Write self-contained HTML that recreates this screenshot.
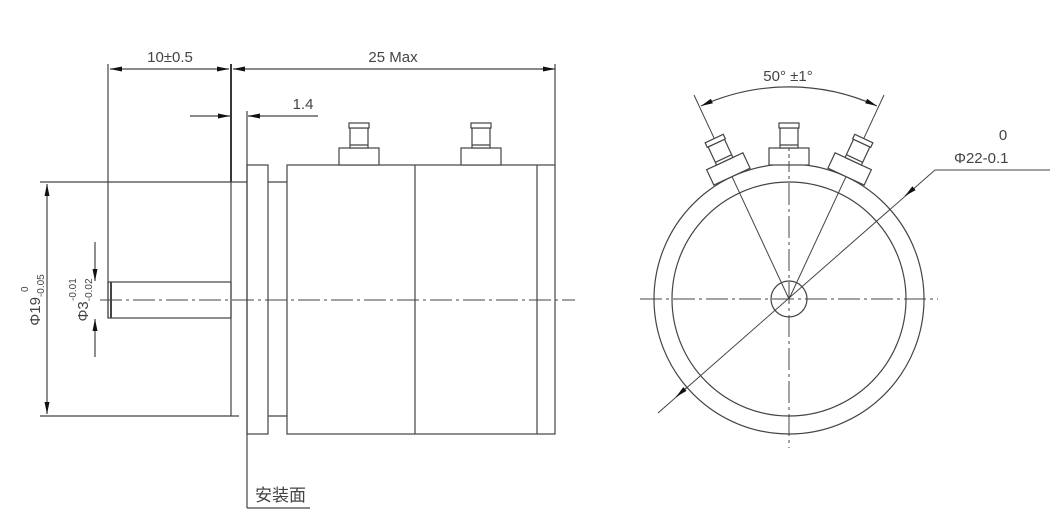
<!DOCTYPE html>
<html><head><style>body{margin:0;background:#fff}svg{display:block}text{font-family:"Liberation Sans","Noto Sans CJK SC",sans-serif;fill:#444}</style></head>
<body>
<svg width="1058" height="532" viewBox="0 0 1058 532" xmlns="http://www.w3.org/2000/svg">
<defs>
<marker id="a" viewBox="0 0 12 5" refX="12" refY="2.5" markerWidth="12" markerHeight="5" orient="auto-start-reverse" markerUnits="userSpaceOnUse"><path d="M0,0L12,2.5L0,5z" fill="#111"/></marker>
<g id="term" fill="#fff" stroke="#444" stroke-width="1.2">
<rect x="-20" y="-152" width="40" height="17"/>
<rect x="-9" y="-172" width="18" height="20"/>
<rect x="-10" y="-177" width="20" height="5"/>
<line x1="-9" y1="-155" x2="9" y2="-155"/>
</g>
</defs>
<g stroke="#444" stroke-width="1.2" fill="none">
<line x1="108" y1="64" x2="108" y2="318"/>
<line x1="231" y1="64" x2="231" y2="182" stroke="#222" stroke-width="1.8"/>
<line x1="231" y1="182" x2="231" y2="416"/>
<line x1="555" y1="64" x2="555" y2="165"/>
<line x1="247" y1="111" x2="247" y2="508"/>
<line x1="247" y1="508" x2="310" y2="508"/>
<rect x="247" y="165" width="21" height="269"/>
<line x1="268" y1="182" x2="287" y2="182"/><line x1="268" y1="416" x2="287" y2="416"/>
<rect x="287" y="165" width="268" height="269"/>
<line x1="415" y1="165" x2="415" y2="434"/>
<line x1="537" y1="165" x2="537" y2="434"/>
<rect x="108" y="282" width="123" height="36"/>
<line x1="111" y1="282" x2="111" y2="318" stroke-width="2"/>
<line x1="40" y1="182" x2="247" y2="182"/>
<line x1="40" y1="416" x2="239" y2="416"/>
<line x1="47" y1="184" x2="47" y2="414" marker-start="url(#a)" marker-end="url(#a)"/>
<line x1="95" y1="242" x2="95" y2="281" marker-end="url(#a)"/>
<line x1="95" y1="357" x2="95" y2="319" marker-end="url(#a)"/>
<line x1="110" y1="69" x2="229" y2="69" marker-start="url(#a)" marker-end="url(#a)"/>
<line x1="233" y1="69" x2="553" y2="69" marker-start="url(#a)"/>
<line x1="541" y1="69" x2="555" y2="69" marker-end="url(#a)"/>
<line x1="190" y1="116" x2="230" y2="116" marker-end="url(#a)"/>
<line x1="318" y1="116" x2="248" y2="116" marker-end="url(#a)"/>
<line x1="100" y1="300" x2="575" y2="300" stroke-dasharray="22,4,3,4" stroke-width="1"/>
<circle cx="789" cy="299" r="135"/>
<circle cx="789" cy="299" r="117"/>
<circle cx="789" cy="299" r="18"/>
<line x1="640" y1="299" x2="938" y2="299" stroke-dasharray="22,4,3,4" stroke-width="1"/>
<line x1="789" y1="150" x2="789" y2="448" stroke-dasharray="22,4,3,4" stroke-width="1"/>
<line x1="789" y1="299" x2="694" y2="95" stroke-width="1"/>
<line x1="789" y1="299" x2="884" y2="95" stroke-width="1"/>
<path d="M701,106 A212,212 0 0 1 877,106" marker-start="url(#a)" marker-end="url(#a)"/>
<line x1="658" y1="413" x2="935" y2="170" stroke-width="1"/>
<line x1="676" y1="397" x2="686" y2="388" marker-start="url(#a)"/>
<line x1="935" y1="170" x2="1050" y2="170" stroke-width="1"/>
<line x1="913" y1="189" x2="905" y2="196" marker-end="url(#a)"/>
</g>
<use href="#term" transform="translate(359,300)"/>
<use href="#term" transform="translate(481,300)"/>
<use href="#term" transform="translate(789,300)"/>
<use href="#term" transform="translate(789,299) rotate(-25)"/>
<use href="#term" transform="translate(789,299) rotate(25)"/>
<g stroke="#444"><line x1="789" y1="165" x2="789" y2="148" stroke-dasharray="4,3"/></g>
<text x="170" y="62" font-size="15" text-anchor="middle">10±0.5</text>
<text x="393" y="62" font-size="15" text-anchor="middle">25 Max</text>
<text x="303" y="109" font-size="15" text-anchor="middle">1.4</text>
<text x="255" y="501" font-size="17">安装面</text>
<text transform="translate(40,300) rotate(-90)" font-size="15" text-anchor="middle">Φ19<tspan font-size="10" dy="4">-0.05</tspan></text>
<text transform="translate(28,300) rotate(-90)" font-size="10" x="8">0</text>
<text transform="translate(88,300) rotate(-90)" font-size="15" text-anchor="middle">Φ3<tspan font-size="10" dy="4">-0.02</tspan></text>
<text transform="translate(76,300) rotate(-90)" font-size="10" x="-1">-0.01</text>
<text x="788" y="81" font-size="15" text-anchor="middle">50° ±1°</text>
<text x="1003" y="140" font-size="15" text-anchor="middle">0</text>
<text x="954" y="163" font-size="15">Φ22-0.1</text>
</svg>
</body></html>
